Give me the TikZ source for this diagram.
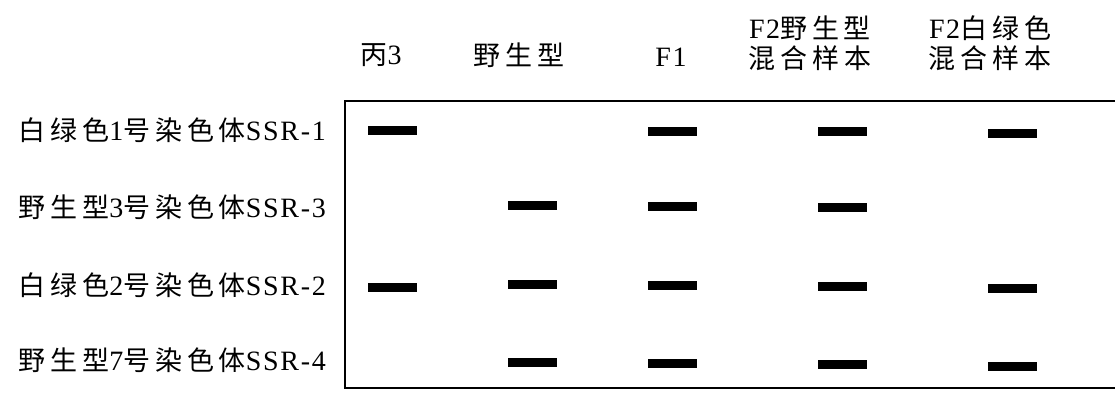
\documentclass[tikz,border=0pt]{standalone}
\usepackage{fontspec}
\setmainfont{Liberation Serif}[LetterSpace=6]
\newfontfamily\cjk{Noto Sans CJK SC}[LetterSpace=18]
\newcommand{\zh}[1]{{\fontsize{27}{30}\cjk #1}}
\begin{document}
\begin{tikzpicture}[x=1pt,y=-1pt,
  lbl/.style={font=\fontsize{28}{30}\selectfont, inner sep=0pt},
  hdr/.style={font=\fontsize{28}{30}\selectfont, inner sep=0pt, align=center},
  band/.style={fill=black, draw=none, minimum width=49pt, minimum height=9pt, inner sep=0pt},
  frame/.style={draw=black, line width=1.8pt}]
\useasboundingbox (0,0) rectangle (1115,393);
% headers
\node[hdr] (h1) at (381,55) {\zh{丙}3};
\node[hdr] (h2) at (519,55) {\zh{野生型}};
\node[hdr] (h3) at (671,57) {F1};
\node[hdr] (h4) at (810,43) {F2\zh{野生型}\\\zh{混合样本}};
\node[hdr] (h5) at (990,43) {F2\zh{白绿色}\\\zh{混合样本}};
% row labels
\node[lbl, anchor=east] (r1) at (326,130) {\zh{白绿色}1\zh{号染色体}SSR-1};
\node[lbl, anchor=east] (r2) at (326,207) {\zh{野生型}3\zh{号染色体}SSR-3};
\node[lbl, anchor=east] (r3) at (326,285) {\zh{白绿色}2\zh{号染色体}SSR-2};
\node[lbl, anchor=east] (r4) at (326,360) {\zh{野生型}7\zh{号染色体}SSR-4};
% frame
\draw[frame] (1117,101) -- (345,101) -- (345,388) -- (1117,388);
% bands row 1
\node[band] (b11) at (392,130) {};
\node[band] (b13) at (672,131) {};
\node[band] (b14) at (842,131) {};
\node[band] (b15) at (1012,133) {};
% row 2
\node[band] (b22) at (532,205) {};
\node[band] (b23) at (672,206) {};
\node[band] (b24) at (842,207) {};
% row 3
\node[band] (b31) at (392,287) {};
\node[band] (b32) at (532,284) {};
\node[band] (b33) at (672,285) {};
\node[band] (b34) at (842,286) {};
\node[band] (b35) at (1012,288) {};
% row 4
\node[band] (b42) at (532,362) {};
\node[band] (b43) at (672,363) {};
\node[band] (b44) at (842,364) {};
\node[band] (b45) at (1012,366) {};
\end{tikzpicture}
\end{document}
